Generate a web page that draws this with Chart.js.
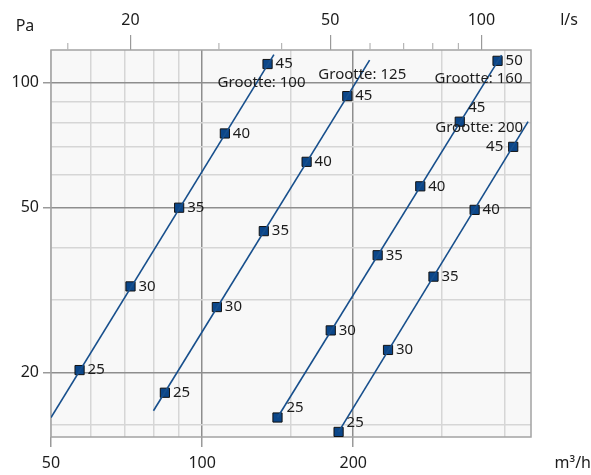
<!DOCTYPE html>
<html>
<head>
<meta charset="utf-8">
<script src="https://cdn.jsdelivr.net/npm/chart.js@4"></script>
<style>
  html, body { margin: 0; padding: 0; background: #fff; }
  canvas { display: block; }
</style>
</head>
<body>
<canvas id="chart" width="591" height="475"></canvas>
<script>
// axis ticks
const flowTicks = [50, 60, 70, 80, 90, 100, 150, 200, 300, 400];
const flowLabels = [50, 100, 200];
const flowMajor = [100, 200];
const paTicks = [15, 20, 30, 40, 50, 60, 70, 80, 90, 100];
const paLabels = [20, 50, 100];
const lsTicks = [15, 20, 30, 40, 50, 60, 70, 80, 90, 100];
const lsLabels = [20, 50, 100];

// Grootte 100
const flow100 = [57, 72, 90, 111, 135];
const pa100 = [20.3, 32.3, 50, 75.5, 111];
const noise100 = [25, 30, 35, 40, 45];
const line100Flow = [50, 139];
const line100Pa = [15.6, 117];

// Grootte 125
const flow125 = [84.3, 107, 132.7, 161.5, 194.6];
const pa125 = [17.9, 28.8, 43.9, 64.5, 92.9];
const noise125 = [25, 30, 35, 40, 45];
const line125Flow = [80, 215.6];
const line125Pa = [16.2, 113.4];

// Grootte 160
const flow160 = [141.3, 180.4, 223.7, 272, 326, 387.7];
const pa160 = [15.6, 25.3, 38.4, 56.3, 80.6, 113];
const noise160 = [25, 30, 35, 40, 45, 50];
const line160Flow = [141.3, 395];
const line160Pa = [15.6, 116.6];

// Grootte 200
const flow200 = [187, 234.6, 289, 349, 416.6];
const pa200 = [14.4, 22.7, 34.1, 49.4, 70.1];
const noise200 = [25, 30, 35, 40, 45];
const line200Flow = [187, 446];
const line200Pa = [14.4, 80.6];

const FONT = '"Noto Sans", "Open Sans", sans-serif';
const LINE = '#174f8c';
const FILL = '#0b4689';
const TEXT = '#1c1c1c';

function pts(xs, ys) { return xs.map((x, i) => ({ x: x, y: ys[i] })); }

const series = [
  { name: 'Grootte: 100', flow: flow100, pa: pa100, noise: noise100, lf: line100Flow, lp: line100Pa,
    title: { idx: 4, dx: -6, dy: 19 }, special: {} },
  { name: 'Grootte: 125', flow: flow125, pa: pa125, noise: noise125, lf: line125Flow, lp: line125Pa,
    title: { idx: 4, dx: 15, dy: -21 }, special: {} },
  { name: 'Grootte: 160', flow: flow160, pa: pa160, noise: noise160, lf: line160Flow, lp: line160Pa,
    title: { idx: 5, dx: -19, dy: 18 },
    special: { 0: { align: 'left', dx: 9, dy: -10 }, 4: { align: 'center', dx: 17, dy: -14 } } },
  { name: 'Grootte: 200', flow: flow200, pa: pa200, noise: noise200, lf: line200Flow, lp: line200Pa,
    title: { idx: 4, dx: -34, dy: -19 },
    special: { 0: { align: 'left', dx: 8, dy: -9 }, 4: { align: 'right', dx: -10, dy: 0 } } }
];

const datasets = [];
series.forEach((s, si) => {
  datasets.push({
    data: pts(s.lf, s.lp), showLine: true, pointRadius: 0,
    borderColor: LINE, borderWidth: 1.6, fill: false
  });
  datasets.push({
    data: pts(s.flow, s.pa), showLine: false, pointStyle: 'rect',
    pointRadius: 6.5, pointHoverRadius: 6.5,
    backgroundColor: FILL, borderColor: '#111', borderWidth: 1,
    seriesIndex: si
  });
});

const plotBg = {
  id: 'plotBg',
  beforeDraw(chart) {
    const { ctx, chartArea: a } = chart;
    ctx.save();
    ctx.fillStyle = '#f8f8f8';
    ctx.fillRect(a.left, a.top, a.right - a.left, a.bottom - a.top);
    ctx.restore();
  },
  beforeDatasetsDraw(chart) {
    const { ctx, chartArea: a } = chart;
    ctx.save();
    ctx.strokeStyle = '#a3a3a3';
    ctx.lineWidth = 1.5;
    ctx.strokeRect(a.left, a.top, a.right - a.left, a.bottom - a.top);
    // minor ticks on the l/s axis
    const x2 = chart.scales.x2;
    ctx.strokeStyle = '#b5b5b5';
    ctx.lineWidth = 1.2;
    lsTicks.forEach(v => {
      if (lsLabels.includes(v)) return;
      const px = x2.getPixelForValue(v);
      ctx.beginPath();
      ctx.moveTo(px, a.top);
      ctx.lineTo(px, a.top - 7);
      ctx.stroke();
    });
    ctx.restore();
  }
};

const pointLabels = {
  id: 'pointLabels',
  afterDatasetsDraw(chart) {
    const ctx = chart.ctx;
    ctx.save();
    ctx.font = '15px ' + FONT;
    ctx.fillStyle = TEXT;
    ctx.textBaseline = 'middle';
    chart.data.datasets.forEach((ds, di) => {
      if (ds.seriesIndex === undefined) return;
      const s = series[ds.seriesIndex];
      const meta = chart.getDatasetMeta(di);
      meta.data.forEach((el, i) => {
        const sp = s.special[i] || { align: 'left', dx: 8, dy: 0 };
        ctx.textAlign = sp.align;
        ctx.fillText(String(s.noise[i]), el.x + sp.dx, el.y + sp.dy);
      });
      const t = meta.data[s.title.idx];
      ctx.textAlign = 'center';
      ctx.fillText(s.name, t.x + s.title.dx, t.y + s.title.dy);
    });
    ctx.restore();
  }
};

const axisNames = {
  id: 'axisNames',
  afterDraw(chart) {
    const ctx = chart.ctx;
    ctx.save();
    ctx.font = '16px ' + FONT;
    ctx.fillStyle = TEXT;
    ctx.textBaseline = 'middle';
    ctx.textAlign = 'center';
    ctx.fillText('Pa', 25, 26);
    ctx.fillText('l/s', 569, 20);
    ctx.textAlign = 'right';
    ctx.fillText('m³/h', 591, 463);
    ctx.restore();
  }
};

const tickFont = { family: FONT, size: 16 };

new Chart(document.getElementById('chart'), {
  type: 'scatter',
  data: { datasets: datasets },
  options: {
    responsive: false,
    animation: false,
    layout: { padding: { right: 60 } },
    plugins: { legend: { display: false }, tooltip: { enabled: false } },
    scales: {
      x: {
        type: 'logarithmic', position: 'bottom', min: 50, max: 452,
        afterBuildTicks: s => { s.ticks = flowTicks.map(v => ({ value: v })); },
        afterFit: s => { s.height = 38; },
        ticks: {
          autoSkip: false, maxRotation: 0, padding: 7, color: TEXT, font: tickFont,
          callback: v => flowLabels.includes(v) ? String(v) : ''
        },
        grid: {
          lineWidth: 1.5, tickLength: 10,
          color: c => flowMajor.includes(c.tick.value) ? '#8e8e8e' : '#d6d6d6',
          tickColor: c => flowLabels.includes(c.tick.value) ? '#9a9a9a' : 'rgba(0,0,0,0)'
        },
        border: { display: false }
      },
      x2: {
        type: 'logarithmic', position: 'top', min: 50 / 3.6, max: 452 / 3.6,
        afterBuildTicks: s => { s.ticks = lsTicks.map(v => ({ value: v })); },
        afterFit: s => { s.height = 50; },
        ticks: {
          autoSkip: false, maxRotation: 0, padding: 5, color: TEXT, font: tickFont,
          callback: v => lsLabels.includes(v) ? String(v) : ''
        },
        grid: {
          drawOnChartArea: false, tickLength: 15, lineWidth: 1.2,
          tickColor: c => lsLabels.includes(c.tick.value) ? '#9a9a9a' : 'rgba(0,0,0,0)'
        },
        border: { display: false }
      },
      y: {
        type: 'logarithmic', position: 'left', min: 14, max: 120,
        afterBuildTicks: s => { s.ticks = paTicks.map(v => ({ value: v })); },
        afterFit: s => { s.width = 51; },
        ticks: {
          autoSkip: false, padding: 4, color: TEXT, font: tickFont,
          callback: v => paLabels.includes(v) ? String(v) : ''
        },
        grid: {
          lineWidth: 1.5, tickLength: 8,
          color: c => paLabels.includes(c.tick.value) ? '#8e8e8e' : '#d6d6d6',
          tickColor: c => paLabels.includes(c.tick.value) ? '#9a9a9a' : 'rgba(0,0,0,0)'
        },
        border: { display: false }
      }
    }
  },
  plugins: [plotBg, pointLabels, axisNames]
});
</script>
</body>
</html>
